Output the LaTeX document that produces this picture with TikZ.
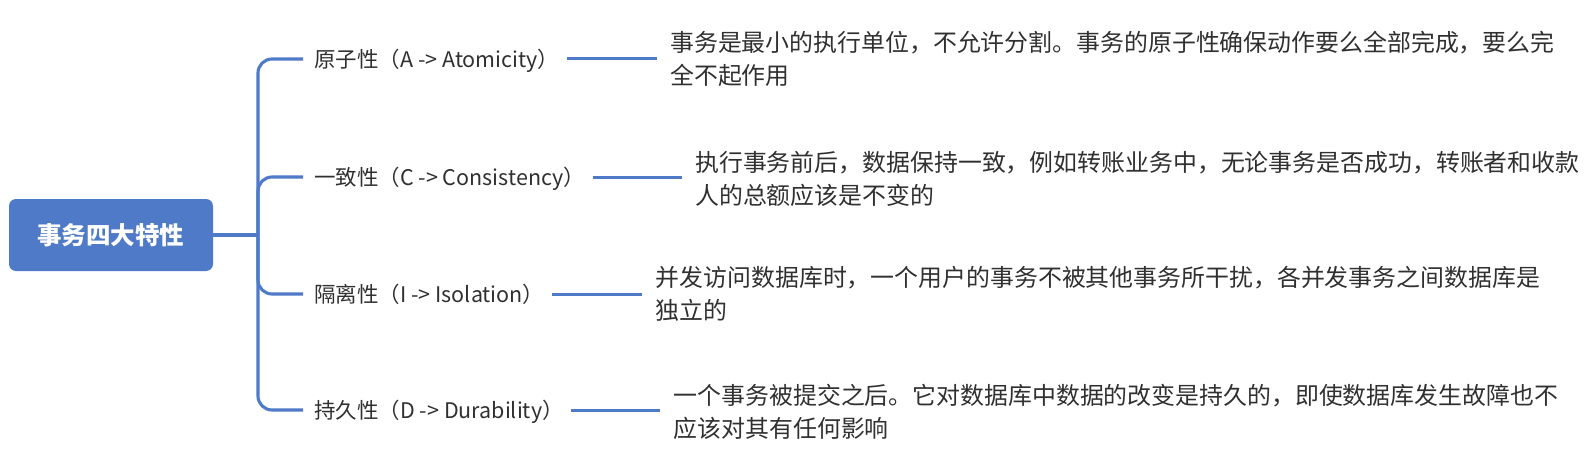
\documentclass[tikz,border=0pt]{standalone}
\usepackage{fontspec}
\setmainfont{Noto Sans CJK SC}
\definecolor{mblue}{HTML}{4F7AC7}
\definecolor{txt}{HTML}{303030}
\begin{document}
\begin{tikzpicture}[x=1pt,y=-1pt,
  rootbox/.style={fill=mblue, rounded corners=7pt, minimum width=204pt, minimum height=72pt,
    text=white, font=\fontsize{24.5}{28}\selectfont\bfseries, inner sep=0pt,
    text height=21.6pt, text depth=2.9pt},
  lab/.style={anchor=west, inner sep=0pt, text=txt, font=\fontsize{21.5}{26}\selectfont,
    text height=18.9pt, text depth=2.6pt},
  desc/.style={anchor=west, inner sep=0pt, text=txt, align=left, font=\fontsize{23.9}{33.5}\selectfont,
    text height=54.5pt, text depth=2.9pt},
  branch/.style={draw=mblue, line width=3.1pt, rounded corners=14pt},
  conn/.style={draw=mblue, line width=3pt, shorten <=7.5pt, shorten >=13.5pt}]
\useasboundingbox (0,0) rectangle (1591,460);

\node[rootbox] (root) at (111,235) {事务四大特性};
\coordinate (hub) at (258,235);

\node[lab] (l1) at (314,59)  {原子性（A -> Atomicity）};
\node[lab] (l2) at (314,177) {一致性（C -> Consistency）};
\node[lab] (l3) at (314,294) {隔离性（I -> Isolation）};
\node[lab] (l4) at (314,410) {持久性（D -> Durability）};

\node[desc] (d1) at (670,59)  {事务是最小的执行单位，不允许分割。事务的原子性确保动作要么全部完成，要么完\\全不起作用};
\node[desc] (d2) at (695,179) {执行事务前后，数据保持一致，例如转账业务中，无论事务是否成功，转账者和收款\\人的总额应该是不变的};
\node[desc] (d3) at (655.5,294) {并发访问数据库时，一个用户的事务不被其他事务所干扰，各并发事务之间数据库是\\独立的};
\node[desc] (d4) at (673.5,412) {一个事务被提交之后。它对数据库中数据的改变是持久的，即使数据库发生故障也不\\应该对其有任何影响};

\draw[draw=mblue, line width=3.1pt] (root.east) -- (hub);
\foreach \n in {1,2,3,4}{
  \draw[branch, shorten >=11pt] (hub) |- (l\n.west);
  \draw[conn] (l\n.east) -- (l\n.east -| d\n.west);
}
\end{tikzpicture}
\end{document}
